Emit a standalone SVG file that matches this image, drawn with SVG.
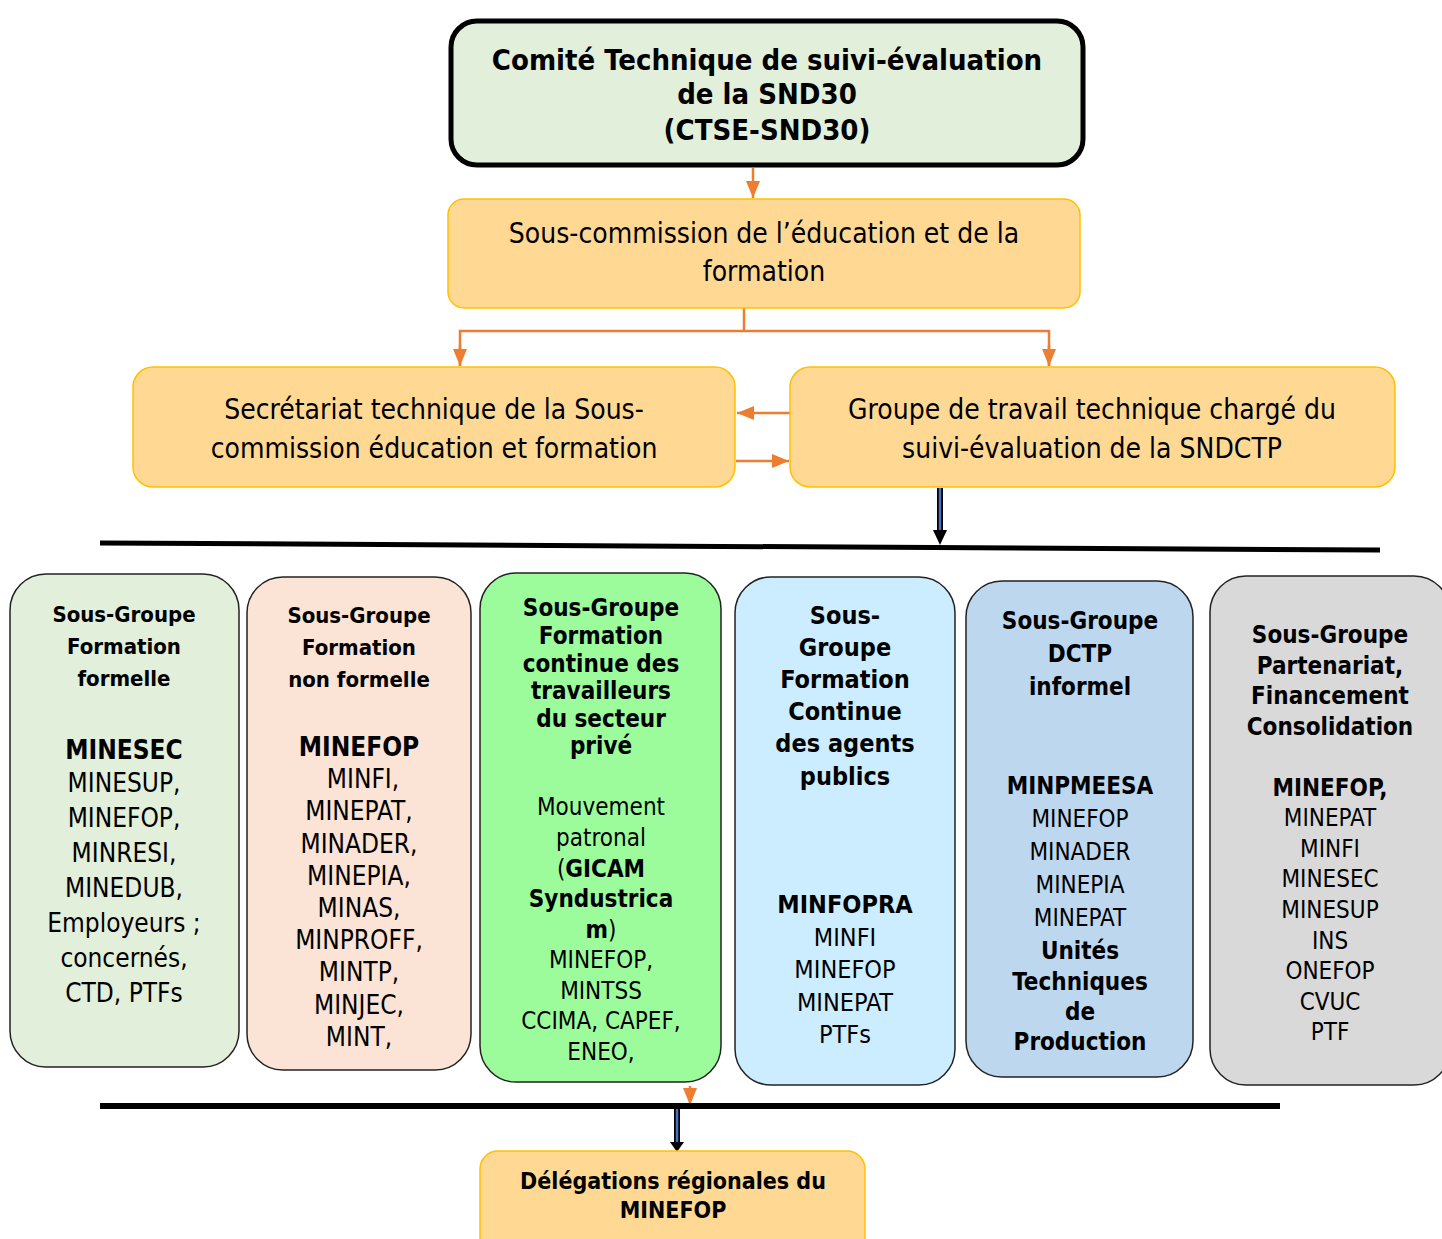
<svg xmlns="http://www.w3.org/2000/svg" width="1442" height="1239" viewBox="0 0 1442 1239">
<style>
text{font-family:"DejaVu Sans Condensed","DejaVu Sans",sans-serif;text-anchor:middle;fill:#000}
.b{font-weight:bold}
.org{fill:#FFD993;stroke:#FFC000;stroke-width:1.5}
.sg{stroke:#222;stroke-width:1.5}
.oc{stroke:#ED7D31;stroke-width:2.5;fill:none}
</style>
<defs>
<marker id="ao" viewBox="0 0 10 10" refX="10" refY="5" markerWidth="17" markerHeight="14" preserveAspectRatio="none" orient="auto" markerUnits="userSpaceOnUse">
<path d="M0,0 L10,5 L0,10 z" fill="#ED7D31"/>
</marker>
</defs>
<rect width="1442" height="1239" fill="#fff"/>
<g id="connectors">
<line x1="753" y1="168" x2="753" y2="198" class="oc" marker-end="url(#ao)"/>
<polyline points="744,308 744,331" class="oc"/>
<polyline points="460,366 460,331 1049,331 1049,366" class="oc" stroke-width="3"/>
<line x1="460" y1="345" x2="460" y2="366" class="oc" marker-end="url(#ao)"/>
<line x1="1049" y1="345" x2="1049" y2="366" class="oc" marker-end="url(#ao)"/>
<line x1="790" y1="413" x2="737" y2="413" class="oc" marker-end="url(#ao)"/>
<line x1="736" y1="461" x2="789" y2="461" class="oc" marker-end="url(#ao)"/>
<line x1="940" y1="488" x2="940" y2="530" stroke="#000" stroke-width="6"/>
<line x1="940" y1="488" x2="940" y2="530" stroke="#4472C4" stroke-width="2.5"/>
<path d="M933,530 L947,530 L940,545 z" fill="#000"/>
<line x1="100" y1="543" x2="1380" y2="550" stroke="#000" stroke-width="5"/>
<line x1="690" y1="1086" x2="690" y2="1105" class="oc" marker-end="url(#ao)"/>
<line x1="100" y1="1106" x2="1280" y2="1106" stroke="#000" stroke-width="6"/>
<line x1="677" y1="1109" x2="677" y2="1142" stroke="#000" stroke-width="6"/>
<line x1="677" y1="1109" x2="677" y2="1142" stroke="#4472C4" stroke-width="2.5"/>
<path d="M670,1142 L684,1142 L677,1152 z" fill="#000"/>
<line x1="100" y1="1010" x2="100" y2="1032" stroke="#ED7D31" stroke-width="2.5"/>
</g>
<g id="ctse">
<rect x="451" y="21" width="632" height="144" rx="26" fill="#E2EFDA" stroke="#000" stroke-width="5"/>
<text x="767" y="70" font-size="29" class="b">Comité Technique de suivi-évaluation</text>
<text x="767" y="104" font-size="29" class="b">de la SND30</text>
<text x="767" y="140" font-size="29" class="b">(CTSE-SND30)</text>
</g>
<g id="souscommission">
<rect x="448" y="199" width="632" height="109" rx="16" class="org"/>
<text x="764" y="243" font-size="28">Sous-commission de l’éducation et de la</text>
<text x="764" y="281" font-size="28">formation</text>
</g>
<g id="secretariat">
<rect x="133" y="367" width="602" height="120" rx="20" class="org"/>
<text x="434" y="419" font-size="28">Secrétariat technique de la Sous-</text>
<text x="434" y="458" font-size="28">commission éducation et formation</text>
</g>
<g id="groupe">
<rect x="790" y="367" width="605" height="120" rx="20" class="org"/>
<text x="1092" y="419" font-size="28">Groupe de travail technique chargé du</text>
<text x="1092" y="458" font-size="28">suivi-évaluation de la SNDCTP</text>
</g>
<g id="sg1">
<rect x="10" y="574" width="229" height="493" rx="36" fill="#E2EFDA" class="sg"/>
<g font-size="22" class="b">
<text x="124" y="622" class="b">Sous-Groupe</text>
<text x="124" y="654" class="b">Formation</text>
<text x="124" y="686" class="b">formelle</text>
</g>
<text x="124" y="759" font-size="26" class="b">MINESEC</text>
<g font-size="26">
<text x="124" y="792">MINESUP,</text>
<text x="124" y="827">MINEFOP,</text>
<text x="124" y="862">MINRESI,</text>
<text x="124" y="897">MINEDUB,</text>
<text x="124" y="932">Employeurs ;</text>
<text x="124" y="967">concernés,</text>
<text x="124" y="1002">CTD, PTFs</text>
</g>
</g>
<g id="sg2">
<rect x="247" y="577" width="224" height="493" rx="36" fill="#FBE4D5" class="sg"/>
<g font-size="22">
<text x="359" y="623" class="b">Sous-Groupe</text>
<text x="359" y="655" class="b">Formation</text>
<text x="359" y="687" class="b">non formelle</text>
</g>
<text x="359" y="756" font-size="26" class="b">MINEFOP</text>
<g font-size="26">
<text x="363" y="788">MINFI,</text>
<text x="359" y="820">MINEPAT,</text>
<text x="359" y="853">MINADER,</text>
<text x="359" y="885">MINEPIA,</text>
<text x="359" y="917">MINAS,</text>
<text x="359" y="949">MINPROFF,</text>
<text x="359" y="981">MINTP,</text>
<text x="359" y="1014">MINJEC,</text>
<text x="359" y="1046">MINT,</text>
</g>
</g>
<g id="sg3">
<rect x="480" y="573" width="241" height="509" rx="36" fill="#9CFC9C" class="sg"/>
<g font-size="24" class="b">
<text x="601" y="616" class="b">Sous-Groupe</text>
<text x="601" y="644" class="b">Formation</text>
<text x="601" y="672" class="b">continue des</text>
<text x="601" y="699" class="b">travailleurs</text>
<text x="601" y="727" class="b">du secteur</text>
<text x="601" y="754" class="b">privé</text>
</g>
<g font-size="24">
<text x="601" y="815">Mouvement</text>
<text x="601" y="846">patronal</text>
<text x="601" y="877">(<tspan class="b">GICAM</tspan></text>
<text x="601" y="907" class="b">Syndustrica</text>
<text x="601" y="938"><tspan class="b">m</tspan>)</text>
<text x="601" y="968">MINEFOP,</text>
<text x="601" y="999">MINTSS</text>
<text x="601" y="1029">CCIMA, CAPEF,</text>
<text x="601" y="1060">ENEO,</text>
</g>
</g>
<g id="sg4">
<rect x="735" y="577" width="220" height="508" rx="36" fill="#CCECFF" class="sg"/>
<g font-size="25">
<text x="845" y="624" class="b">Sous-</text>
<text x="845" y="656" class="b">Groupe</text>
<text x="845" y="688" class="b">Formation</text>
<text x="845" y="720" class="b">Continue</text>
<text x="845" y="752" class="b">des agents</text>
<text x="845" y="785" class="b">publics</text>
<text x="845" y="913" class="b">MINFOPRA</text>
<text x="845" y="946">MINFI</text>
<text x="845" y="978">MINEFOP</text>
<text x="845" y="1011">MINEPAT</text>
<text x="845" y="1043">PTFs</text>
</g>
</g>
<g id="sg5">
<rect x="966" y="581" width="227" height="496" rx="36" fill="#BDD7EE" class="sg"/>
<g font-size="24">
<text x="1080" y="629" class="b">Sous-Groupe</text>
<text x="1080" y="662" class="b">DCTP</text>
<text x="1080" y="695" class="b">informel</text>
<text x="1080" y="794" class="b">MINPMEESA</text>
<text x="1080" y="827">MINEFOP</text>
<text x="1080" y="860">MINADER</text>
<text x="1080" y="893">MINEPIA</text>
<text x="1080" y="926">MINEPAT</text>
<text x="1080" y="959" class="b">Unités</text>
<text x="1080" y="990" class="b">Techniques</text>
<text x="1080" y="1020" class="b">de</text>
<text x="1080" y="1050" class="b">Production</text>
</g>
</g>
<g id="sg6">
<rect x="1210" y="576" width="240" height="509" rx="36" fill="#D9D9D9" class="sg"/>
<g font-size="24">
<text x="1330" y="643" class="b">Sous-Groupe</text>
<text x="1330" y="674" class="b">Partenariat,</text>
<text x="1330" y="704" class="b">Financement</text>
<text x="1330" y="735" class="b">Consolidation</text>
<text x="1330" y="796" class="b">MINEFOP,</text>
<text x="1330" y="826">MINEPAT</text>
<text x="1330" y="857">MINFI</text>
<text x="1330" y="887">MINESEC</text>
<text x="1330" y="918">MINESUP</text>
<text x="1330" y="949">INS</text>
<text x="1330" y="979">ONEFOP</text>
<text x="1330" y="1010">CVUC</text>
<text x="1330" y="1040">PTF</text>
</g>
</g>
<g id="delegations">
<rect x="480" y="1151" width="385" height="110" rx="18" class="org"/>
<text x="673" y="1189" font-size="23" class="b">Délégations régionales du</text>
<text x="673" y="1218" font-size="23" class="b">MINEFOP</text>
</g>
</svg>
